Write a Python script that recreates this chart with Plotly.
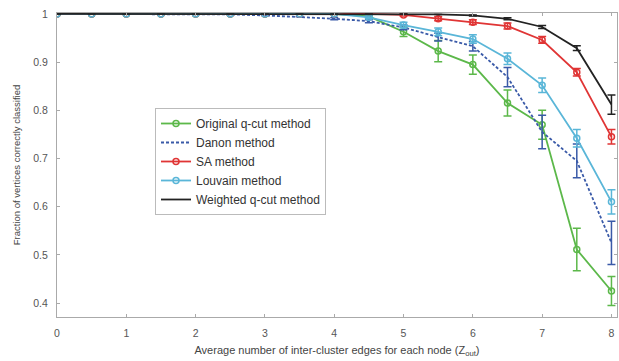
import plotly.graph_objects as go

x = [0, 0.5, 1, 1.5, 2, 2.5, 3, 3.5, 4, 4.5, 5, 5.5, 6, 6.5, 7, 7.5, 8]

orig_q = [1, 1, 1, 1, 1, 1, 1, 1, 1, 0.995, 0.963, 0.923, 0.895, 0.815, 0.770, 0.511, 0.425]
orig_q_err = [0, 0, 0, 0, 0, 0, 0, 0, 0, 0.003, 0.010, 0.022, 0.020, 0.027, 0.030, 0.044, 0.030]

danon = [1, 1, 1, 1, 1, 0.999, 0.997, 0.994, 0.990, 0.985, 0.972, 0.952, 0.933, 0.869, 0.755, 0.695, 0.525]
danon_err = [0, 0, 0, 0, 0, 0, 0, 0, 0.002, 0.003, 0.005, 0.008, 0.010, 0.020, 0.035, 0.035, 0.045]

sa = [1, 1, 1, 1, 1, 1, 1, 1, 1, 1, 0.998, 0.990, 0.983, 0.975, 0.946, 0.879, 0.745]
sa_err = [0, 0, 0, 0, 0, 0, 0, 0, 0, 0, 0.002, 0.004, 0.005, 0.006, 0.007, 0.008, 0.015]

louvain = [1, 1, 1, 1, 1, 1, 1, 1, 1, 0.993, 0.977, 0.963, 0.948, 0.907, 0.852, 0.742, 0.610]
louvain_err = [0, 0, 0, 0, 0, 0, 0, 0, 0, 0.003, 0.006, 0.008, 0.009, 0.012, 0.015, 0.018, 0.025]

weighted_q = [1, 1, 1, 1, 1, 1, 1, 1, 1, 1, 1, 0.999, 0.997, 0.990, 0.973, 0.929, 0.812]
weighted_q_err = [0, 0, 0, 0, 0, 0, 0, 0, 0, 0, 0, 0, 0.001, 0.002, 0.003, 0.005, 0.020]

names = ["Original q-cut method", "Danon method", "SA method", "Louvain method", "Weighted q-cut method"]
colors = ["#5cb84a", "#3a5aa8", "#e03535", "#5ab6d8", "#222222"]
series = [orig_q, danon, sa, louvain, weighted_q]
errors = [orig_q_err, danon_err, sa_err, louvain_err, weighted_q_err]
dashes = ["solid", "3px,2px", "solid", "solid", "solid"]
modes = ["lines+markers", "lines", "lines+markers", "lines+markers", "lines"]

fig = go.Figure()
for name, c, y, e, d, m in zip(names, colors, series, errors, dashes, modes):
    fig.add_trace(go.Scatter(
        x=x, y=y, name=name, mode=m,
        line=dict(color=c, width=1.8, dash=d),
        marker=dict(symbol="circle-open", size=6, color=c, line=dict(width=1.5, color=c)),
        error_y=dict(type="data", array=e, visible=True, color=c, thickness=1.5, width=4),
    ))

fig.update_layout(
    width=619, height=361,
    margin=dict(l=57, r=2, t=13, b=44),
    paper_bgcolor="white", plot_bgcolor="white",
    font=dict(family="Liberation Sans, Arial, sans-serif", size=10, color="#555555"),
    showlegend=True,
    legend=dict(
        x=0.175, y=0.6875, xanchor="left", yanchor="top",
        bgcolor="white", bordercolor="#bbbbbb", borderwidth=1,
        font=dict(size=12, color="#333333"),
        entrywidth=215, entrywidthmode="pixels",
        tracegroupgap=0,
    ),
    xaxis=dict(
        range=[0, 8.08], tickmode="array", tickvals=[0, 1, 2, 3, 4, 5, 6, 7, 8],
        ticks="inside", ticklen=3, tickcolor="#aaaaaa",
        showline=True, linecolor="#aaaaaa", linewidth=1, mirror="ticks",
        showgrid=False, zeroline=False, ticklabelstandoff=6,
        tickfont=dict(size=10.5),
        title=dict(text="Average number of inter-cluster edges for each node (Z<sub>out</sub>)",
                   font=dict(size=11, color="#444444"), standoff=8),
    ),
    yaxis=dict(
        range=[0.371, 1.002], tickmode="array", tickvals=[0.4, 0.5, 0.6, 0.7, 0.8, 0.9, 1.0],
        ticktext=["0.4", "0.5", "0.6", "0.7", "0.8", "0.9", "1"],
        ticks="inside", ticklen=3, tickcolor="#aaaaaa",
        showline=True, linecolor="#aaaaaa", linewidth=1, mirror="ticks",
        showgrid=False, zeroline=False, ticklabelstandoff=6,
        tickfont=dict(size=10.5),
        title=dict(text="Fraction of vertices correctly classified",
                   font=dict(size=9.5, color="#444444"), standoff=10),
    ),
)

fig.write_html("out.html")
